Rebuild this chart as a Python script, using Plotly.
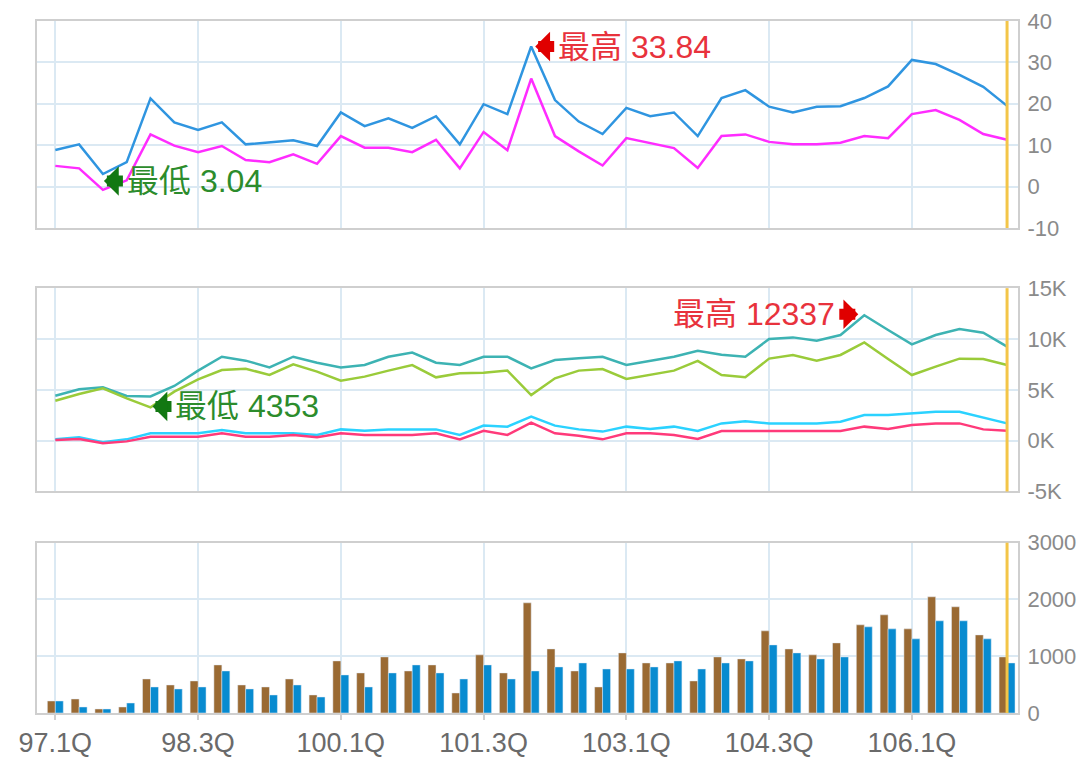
import plotly.graph_objects as go

quarters = ["97.1Q", "97.2Q", "97.3Q", "97.4Q", "98.1Q", "98.2Q", "98.3Q", "98.4Q",
            "99.1Q", "99.2Q", "99.3Q", "99.4Q", "100.1Q", "100.2Q", "100.3Q", "100.4Q",
            "101.1Q", "101.2Q", "101.3Q", "101.4Q", "102.1Q", "102.2Q", "102.3Q", "102.4Q",
            "103.1Q", "103.2Q", "103.3Q", "103.4Q", "104.1Q", "104.2Q", "104.3Q", "104.4Q",
            "105.1Q", "105.2Q", "105.3Q", "105.4Q", "106.1Q", "106.2Q", "106.3Q", "106.4Q",
            "107.1Q"]
tick_labels = ["97.1Q", "98.3Q", "100.1Q", "101.3Q", "103.1Q", "104.3Q", "106.1Q"]

# Panel 1
p1_blue = [8.85, 10.2, 3.04, 5.9, 21.3, 15.5, 13.7, 15.5, 10.2, 10.7, 11.2, 9.8, 17.9, 14.6,
           16.5, 14.2, 17.0, 10.2, 19.9, 17.5, 33.84, 20.9, 15.7, 12.7, 19.0, 17.0, 17.9, 12.2,
           21.4, 23.3, 19.3, 17.9, 19.3, 19.4, 21.4, 24.2, 30.6, 29.6, 27.0, 24.1, 19.5]
p1_magenta = [5.0, 4.4, -0.8, 1.5, 12.6, 9.9, 8.3, 9.8, 6.4, 5.9, 7.8, 5.5, 12.2, 9.4, 9.4,
              8.3, 11.3, 4.4, 13.2, 8.8, 26.1, 12.2, 8.5, 5.1, 11.7, 10.5, 9.3, 4.5, 12.2, 12.6,
              10.8, 10.2, 10.2, 10.6, 12.2, 11.7, 17.5, 18.5, 16.1, 12.7, 11.3]

# Panel 2
p2_teal = [4420, 5050, 5250, 4400, 4353, 5380, 6890, 8260, 7870, 7210, 8260, 7670, 7210, 7440,
           8260, 8660, 7670, 7440, 8260, 8260, 7110, 7930, 8100, 8260, 7440, 7870, 8260, 8850,
           8460, 8260, 10000, 10160, 9840, 10390, 12337, 10890, 9480, 10390, 10980, 10620, 9250]
p2_green = [3930, 4590, 5150, 4160, 3280, 4820, 6030, 6950, 7080, 6460, 7510, 6790, 5900, 6300,
            6890, 7440, 6230, 6620, 6690, 6890, 4490, 6130, 6890, 7050, 6070, 6460, 6890, 7840,
            6460, 6230, 8070, 8430, 7870, 8430, 9670, 8030, 6460, 7280, 8070, 8030, 7440]
p2_cyan = [130, 330, -160, 130, 720, 720, 720, 1050, 720, 720, 720, 560, 1110, 980, 1110, 1110,
           1110, 560, 1480, 1380, 2360, 1480, 1110, 890, 1380, 1150, 1380, 950, 1700, 1900, 1700,
           1700, 1700, 1870, 2520, 2520, 2690, 2850, 2850, 2300, 1700]
p2_pink = [70, 160, -260, -70, 390, 390, 390, 720, 390, 390, 560, 330, 720, 560, 560, 560, 720,
           130, 980, 560, 1770, 720, 490, 130, 720, 720, 560, 160, 950, 950, 950, 950, 950, 950,
           1380, 1150, 1540, 1700, 1700, 1110, 980]

# Panel 3
p3_brown = [212, 247, 71, 106, 600, 494, 565, 847, 494, 459, 600, 318, 918, 706, 988, 741, 847,
            353, 1024, 706, 1941, 1129, 741, 459, 1059, 882, 882, 565, 988, 953, 1447, 1129, 1024,
            1235, 1553, 1729, 1482, 2047, 1871, 1376, 988]
p3_blue = [212, 106, 71, 176, 459, 424, 459, 741, 424, 318, 494, 282, 671, 459, 706, 847, 706,
           600, 847, 600, 741, 812, 882, 776, 776, 812, 918, 776, 882, 918, 1200, 1059, 953, 988,
           1518, 1482, 1306, 1624, 1624, 1306, 882]

y1_ticks = [40, 30, 20, 10, 0, -10]
y1_text = ["40", "30", "20", "10", "0", "-10"]
y2_ticks = [15000, 10000, 5000, 0, -5000]
y2_text = ["15K", "10K", "5K", "0K", "-5K"]
y3_ticks = [3000, 2000, 1000, 0]
y3_text = ["3000", "2000", "1000", "0"]

FONT = "Liberation Sans, Arial, Noto Sans CJK TC, DejaVu Sans"
GRID = "#dbe9f3"
BORDER = "#cfcfcf"
LW = 2.5

fig = go.Figure()
fig.add_trace(go.Scatter(x=quarters, y=p1_blue, mode="lines", line=dict(color="#2f95e0", width=LW),
                         xaxis="x", yaxis="y", showlegend=False))
fig.add_trace(go.Scatter(x=quarters, y=p1_magenta, mode="lines", line=dict(color="#ff2cff", width=LW),
                         xaxis="x", yaxis="y", showlegend=False))
fig.add_trace(go.Scatter(x=quarters, y=p2_teal, mode="lines", line=dict(color="#3db3b3", width=LW),
                         xaxis="x2", yaxis="y2", showlegend=False))
fig.add_trace(go.Scatter(x=quarters, y=p2_green, mode="lines", line=dict(color="#9acb3a", width=LW),
                         xaxis="x2", yaxis="y2", showlegend=False))
fig.add_trace(go.Scatter(x=quarters, y=p2_cyan, mode="lines", line=dict(color="#2bd2ff", width=LW),
                         xaxis="x2", yaxis="y2", showlegend=False))
fig.add_trace(go.Scatter(x=quarters, y=p2_pink, mode="lines", line=dict(color="#ff3a7a", width=LW),
                         xaxis="x2", yaxis="y2", showlegend=False))
fig.add_trace(go.Bar(x=quarters, y=p3_brown, marker=dict(color="#9a6a33"),
                     xaxis="x3", yaxis="y3", showlegend=False))
fig.add_trace(go.Bar(x=quarters, y=p3_blue, marker=dict(color="#088bd0"),
                     xaxis="x3", yaxis="y3", showlegend=False))

xrange = [-0.77, 40.46]


def xax(anchor, labels):
    return dict(type="category", range=xrange, anchor=anchor, domain=[0, 1], automargin=False,
                tickmode="array", tickvals=tick_labels, ticktext=tick_labels,
                showgrid=True, gridcolor=GRID, gridwidth=1.5,
                showline=True, mirror=True, linecolor=BORDER, linewidth=2,
                showticklabels=labels, ticks="outside" if labels else "",
                ticklen=5, tickcolor=BORDER, tickwidth=1.5,
                tickfont=dict(family=FONT, size=27, color="#6a6a6a"))


def yax(anchor, dom, rng, tv, tt):
    return dict(anchor=anchor, domain=dom, range=rng, side="right", automargin=False,
                tickmode="array", tickvals=tv, ticktext=tt,
                showgrid=True, gridcolor=GRID, gridwidth=1.5, zeroline=False,
                showline=True, mirror=True, linecolor=BORDER, linewidth=2,
                ticks="", ticklabelstandoff=3,
                tickfont=dict(family=FONT, size=22, color="#8a8a8a"))


# the page body adds an 8px offset; size the figure so the plot lands where the reference has it
fig.update_layout(
    width=1083, height=751,
    margin=dict(l=29, r=73, t=13, b=46),
    paper_bgcolor="white", plot_bgcolor="white",
    barmode="group", bargap=0.33, bargroupgap=0,
    xaxis=xax("y", False), xaxis2=xax("y2", False), xaxis3=xax("y3", True),
    yaxis=yax("x", [0.7009, 1.0], [-10, 40], y1_ticks, y1_text),
    yaxis2=yax("x2", [0.3201, 0.6139], [-5000, 15000], y2_ticks, y2_text),
    yaxis3=yax("x3", [0.0, 0.2461], [0, 3000], y3_ticks, y3_text),
)

# current-period marker line
for xr, yr in [("x", "y"), ("x2", "y2"), ("x3", "y3")]:
    fig.add_shape(type="line", xref=xr, yref=yr + " domain", x0=quarters[-1], x1=quarters[-1],
                  y0=0, y1=1, line=dict(color="#f3c548", width=3), layer="above")

RED_ARROW = "#e00000"
RED_TEXT = "#e8323c"
GREEN_ARROW = "#127812"
GREEN_TEXT = "#2c8c2c"
AFONT = 32

i_max1 = p1_blue.index(max(p1_blue))
i_min1 = p1_blue.index(min(p1_blue))
i_max2 = p2_teal.index(max(p2_teal))
i_min2 = p2_teal.index(min(p2_teal))


def flag(xr, yr, xv, yv, label, color, arrow_color, side, tip_gap, yshift):
    # label with a block arrow pointing back at the extreme point
    direction = 1 if side == "left" else -1
    fig.add_annotation(x=xv, y=yv, xref=xr, yref=yr, text=label, showarrow=True,
                       ax=direction * (tip_gap + 19), ay=0, standoff=tip_gap,
                       xanchor=side, yanchor="middle", borderpad=3,
                       arrowhead=1, arrowwidth=11, arrowsize=0.45, arrowcolor=arrow_color,
                       yshift=yshift,
                       font=dict(family=FONT, size=AFONT, color=color))


flag("x", "y", quarters[i_max1], p1_blue[i_max1], f"最高 {p1_blue[i_max1]:.2f}",
     RED_TEXT, RED_ARROW, "left", 4, 0)
flag("x", "y", quarters[i_min1], p1_blue[i_min1], f"最低 {p1_blue[i_min1]:.2f}",
     GREEN_TEXT, GREEN_ARROW, "left", 1, -7)
flag("x2", "y2", quarters[i_max2], p2_teal[i_max2], f"最高 {p2_teal[i_max2]}",
     RED_TEXT, RED_ARROW, "right", 6, 1)
flag("x2", "y2", quarters[i_min2], p2_teal[i_min2], f"最低 {p2_teal[i_min2]}",
     GREEN_TEXT, GREEN_ARROW, "left", 2, -10)

fig.write_html("out.html")
